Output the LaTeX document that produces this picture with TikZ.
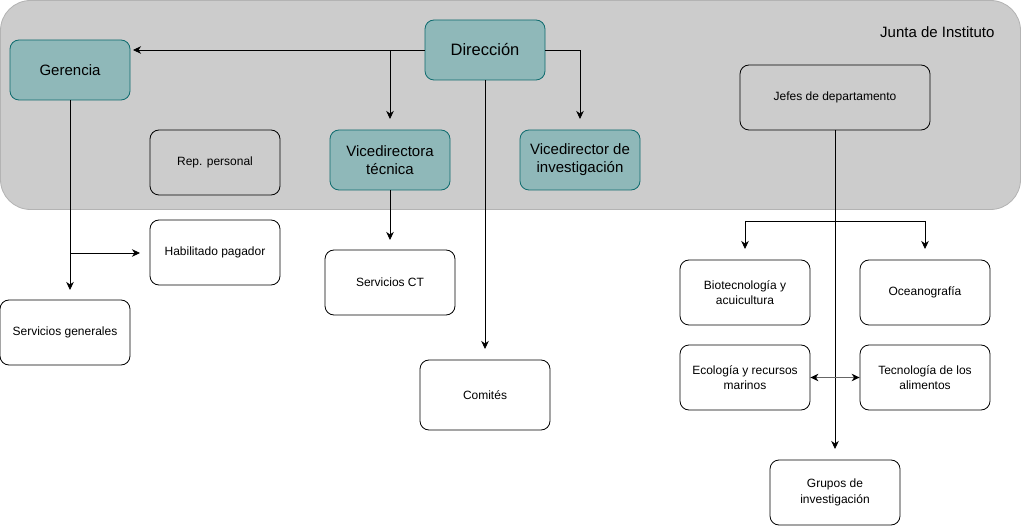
\documentclass[tikz,border=0pt]{standalone}
\usepackage{fontspec}
\setmainfont{Liberation Sans}
\usetikzlibrary{arrows.meta}
\definecolor{tealfill}{HTML}{8FB8B9}
\definecolor{tealline}{HTML}{0E6B6E}
\definecolor{bgfill}{HTML}{CCCCCC}
\definecolor{bgline}{HTML}{B3B3B3}
\tikzset{
  box/.style={draw=black, fill=white, rounded corners=9pt, line width=0.8pt, align=center, font=\fontsize{12}{15.5}\selectfont, inner sep=0pt},
  tealbox/.style={draw=tealline, fill=tealfill, rounded corners=9pt, line width=0.8pt, align=center, font=\fontsize{15}{18}\selectfont, inner sep=0pt},
  conn/.style={line width=0.8pt, -{Stealth[length=8pt,width=7.5pt,inset=2.5pt]}},
  plain/.style={line width=0.8pt},
}
\begin{document}
\begin{tikzpicture}[x=1pt,y=-1pt]
\useasboundingbox (0,0) rectangle (1022,526);
% background
\node[draw=bgline, fill=bgfill, rounded corners=30pt, line width=0.8pt, minimum width=1020pt, minimum height=209pt, inner sep=0pt] (junta) at (510.5,105) {};
\node[anchor=east, font=\fontsize{15}{17}\selectfont] (juntalbl) at (998,32) {Junta de Instituto};

% teal nodes
\node[tealbox, minimum width=120pt, minimum height=60pt] (ger) at (70,70) {Gerencia};
\node[tealbox, minimum width=120pt, minimum height=60pt, font=\fontsize{16.5}{19}\selectfont] (dir) at (485,50) {Dirección};
\node[tealbox, minimum width=120pt, minimum height=60pt] (vtec) at (390,160) {Vicedirectora\\técnica};
\node[tealbox, minimum width=120pt, minimum height=60pt] (vinv) at (580,160) {Vicedirector de\\investigación};

% outlined nodes
\node[box, fill=none, minimum width=130pt, minimum height=65pt] (rep) at (215,162.5) {Rep. personal};
\node[box, fill=none, minimum width=190pt, minimum height=65pt] (jefes) at (835,97.5) {Jefes de departamento};
\node[box, minimum width=130pt, minimum height=65pt] (hab) at (215,252.5) {Habilitado pagador};
\node[box, minimum width=130pt, minimum height=65pt] (sgen) at (65,332.5) {Servicios generales};
\node[box, minimum width=130pt, minimum height=65pt] (sct) at (390,282.5) {Servicios CT};
\node[box, minimum width=130pt, minimum height=70pt] (com) at (485,395) {Comités};
\node[box, minimum width=130pt, minimum height=65pt] (bio) at (745,292.5) {Biotecnología y\\acuicultura};
\node[box, minimum width=130pt, minimum height=65pt] (oce) at (925,292.5) {Oceanografía};
\node[box, minimum width=130pt, minimum height=65pt] (eco) at (745,377.5) {Ecología y recursos\\marinos};
\node[box, minimum width=130pt, minimum height=65pt] (tec) at (925,377.5) {Tecnología de los\\alimentos};
\node[box, minimum width=130pt, minimum height=65pt] (gru) at (835,492.5) {Grupos de\\investigación};

% coordinates for free ends
\coordinate (gerEnd) at (133,50);
\coordinate (vtecEnd) at (390,119);
\coordinate (vinvEnd) at (580,119);
\coordinate (comEnd) at (485,349);
\coordinate (sgenEnd) at (70,290);
\coordinate (habEnd) at (140,253);
\coordinate (habSplit) at (70,253);
\coordinate (sctEnd) at (390,240);
\coordinate (gruEnd) at (835,449);
\coordinate (bioEnd) at (745,249);
\coordinate (oceEnd) at (925,249);
\coordinate (split) at (835,221);

% connectors
\draw[conn] (dir.west) -- (gerEnd);
\draw[conn] (dir.west) -| (vtecEnd);
\draw[conn] (dir.east) -| (vinvEnd);
\draw[conn] (dir.south) -- (comEnd);
\draw[conn] (ger.south) -- (sgenEnd);
\draw[conn] (habSplit) -- (habEnd);
\draw[conn] (vtec.south) -- (sctEnd);
\draw[conn] (jefes.south) -- (gruEnd);
\draw[plain] (bioEnd |- split) -- (oceEnd |- split);
\draw[conn] (bioEnd |- split) -- (bioEnd);
\draw[conn] (oceEnd |- split) -- (oceEnd);
\draw[line width=1pt, draw=black!60, {Stealth[length=8pt,width=7.5pt,inset=2.5pt,color=black]}-{Stealth[length=8pt,width=7.5pt,inset=2.5pt,color=black]}] (eco.east) -- (tec.west);
\end{tikzpicture}
\end{document}
